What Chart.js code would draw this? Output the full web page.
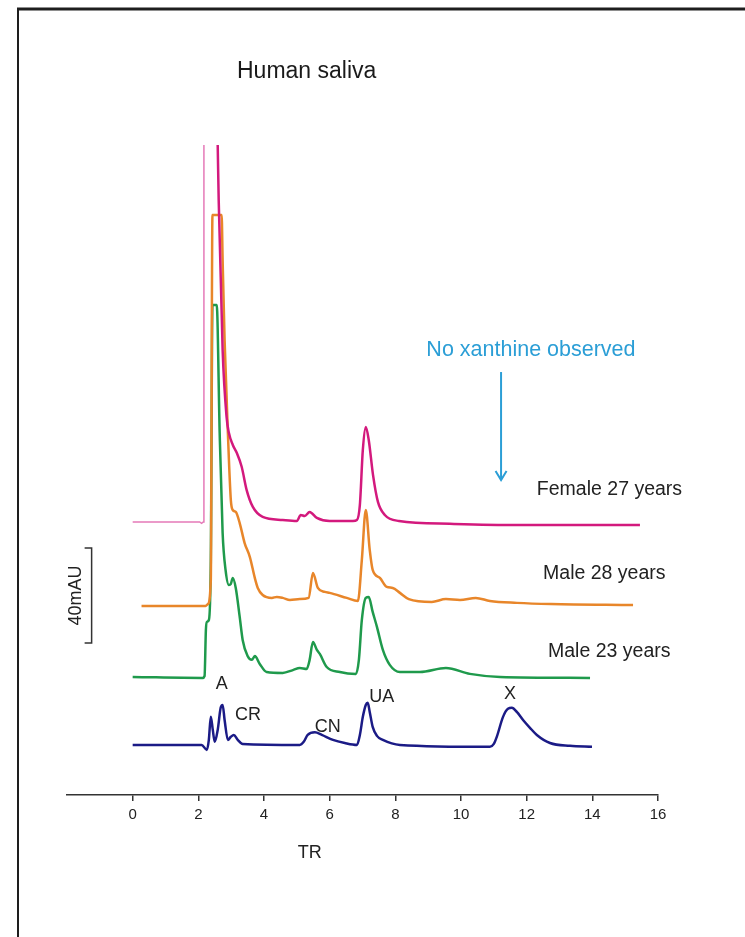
<!DOCTYPE html>
<html><head><meta charset="utf-8">
<script src="https://cdn.jsdelivr.net/npm/chart.js@4.4.1/dist/chart.umd.min.js"></script>
<style>html,body{margin:0;padding:0;background:#fff}canvas{display:block}</style>
</head><body>
<canvas id="c" width="745" height="937"></canvas>
<script>
// ---- data (retention time in min, absorbance in mAU above each trace's baseline) ----
const xTicks = [0, 2, 4, 6, 8, 10, 12, 14, 16];
const traceNames = ['Female 27 years', 'Male 28 years', 'Male 23 years', 'Standard'];
const traceOffsets = [115, 79.6, 49.7, 21.1];   // vertical stacking of the traces (mAU)

const femalePreT = [0, 2.04, 2.10, 2.15, 2.17];
const femalePreA = [0, 0, -0.6, 0, 158.7];

const femaleT = [2.59, 2.62, 2.74, 2.86, 2.93, 3.05, 3.17, 3.32, 3.47, 3.66, 3.96, 4.57, 5.00, 5.12, 5.24, 5.39, 5.61, 6.00, 6.71, 6.83, 6.92, 7.01, 7.10, 7.19, 7.32, 7.47, 7.68, 8.11, 9.66, 11.70, 15.45];
const femaleA = [158.7, 135.6, 72.4, 44.2, 37.5, 32.4, 29.1, 23.2, 13.5, 6.3, 2.1, 0.8, 0.4, 2.9, 2.5, 4.2, 1.7, 0.4, 0.4, 0.8, 7.2, 30.3, 40.0, 34.5, 19.8, 8.4, 2.9, 0.4, -0.8, -1.3, -1.3];

const male28T = [0.27, 2.22, 2.29, 2.38, 2.43, 2.71, 2.74, 2.80, 2.90, 2.99, 3.05, 3.14, 3.26, 3.41, 3.57, 3.72, 3.81, 3.96, 4.24, 4.39, 4.57, 4.79, 5.09, 5.36, 5.49, 5.64, 5.85, 6.00, 6.52, 6.86, 6.98, 7.10, 7.22, 7.31, 7.53, 7.74, 7.92, 8.14, 8.41, 9.11, 9.54, 9.97, 10.45, 10.88, 11.70, 12.74, 15.24];
const male28A = [0, 0, 0.8, 11, 164.6, 164.6, 145.7, 112, 72.8, 44.6, 40.4, 39.6, 34.9, 26.5, 20.6, 11.8, 7.6, 4.6, 3.4, 3.8, 3.4, 2.5, 2.9, 3.4, 13.9, 7.6, 5.9, 5.5, 3.4, 2.1, 19.4, 40.4, 23.6, 15.2, 11.8, 8.0, 7.6, 5.5, 2.9, 1.7, 2.9, 2.5, 3.4, 2.1, 1.3, 0.8, 0.4];

const male23T = [0, 2.13, 2.19, 2.23, 2.26, 2.32, 2.38, 2.43, 2.56, 2.65, 2.74, 2.83, 2.93, 2.99, 3.05, 3.14, 3.26, 3.35, 3.50, 3.63, 3.72, 3.87, 4.08, 4.57, 4.88, 5.09, 5.30, 5.39, 5.49, 5.61, 5.70, 5.91, 6.31, 6.80, 6.89, 6.98, 7.10, 7.19, 7.31, 7.44, 7.62, 7.83, 8.14, 8.75, 9.54, 10.27, 11.19, 13.93];
const male23A = [0, -0.4, 0.4, 19.8, 23.2, 24.0, 49.0, 156.6, 156.6, 102.7, 60.6, 45.0, 38.7, 39.2, 41.7, 37.5, 25.3, 15.6, 8.8, 7.2, 8.8, 5.5, 2.1, 1.7, 2.9, 3.8, 3.4, 7.2, 14.7, 11.4, 9.7, 4.2, 2.1, 1.3, 7.2, 24.0, 33.3, 33.7, 27.4, 21.1, 11.4, 5.1, 2.1, 2.1, 3.8, 1.3, 0, -0.4];

const standardT = [0, 2.10, 2.26, 2.32, 2.38, 2.44, 2.50, 2.59, 2.68, 2.74, 2.80, 2.90, 2.99, 3.08, 3.20, 3.35, 5.09, 5.21, 5.33, 5.55, 5.76, 6.10, 6.46, 6.83, 6.92, 7.01, 7.10, 7.16, 7.22, 7.31, 7.44, 7.62, 8.14, 10.88, 11.00, 11.09, 11.28, 11.43, 11.55, 11.70, 11.89, 12.10, 12.31, 12.71, 13.32, 13.99];
const standardA = [0, 0, -2.1, 2.1, 11.8, 6.3, 1.3, 6.3, 15.6, 16.8, 10.5, 2.1, 3.4, 4.2, 2.1, 0.4, 0, 1.3, 4.2, 5.3, 4.2, 2.1, 0.8, 0, 4.2, 11.8, 16.8, 17.7, 13.9, 7.6, 3.8, 2.1, 0, -0.8, 0.4, 3.4, 11.8, 15.2, 15.6, 13.9, 10.5, 7.2, 4.2, 0.8, -0.4, -0.8];

const peakLabels = ['A', 'CR', 'CN', 'UA', 'X'];
const scaleBarMAU = 40;

// ---- build points ----
function pts(ts, as, off) { return ts.map((t, i) => ({ x: t, y: as[i] + off })); }

const ds = (data, color, w, smooth) => ({
  data, borderColor: color, borderWidth: w, pointRadius: 0, showLine: true,
  fill: false, cubicInterpolationMode: smooth ? 'monotone' : 'default', tension: 0
});

const FONT = '"Liberation Sans", Arial, sans-serif';

const annot = {
  id: 'annot',
  beforeDraw(chart) {
    const c = chart.ctx;
    c.save();
    c.fillStyle = '#fff';
    c.fillRect(0, 0, chart.width, chart.height);
    c.strokeStyle = '#1e1e1e';
    c.lineWidth = 3;
    c.beginPath(); c.moveTo(17, 9); c.lineTo(chart.width, 9); c.stroke();
    c.lineWidth = 2;
    c.beginPath(); c.moveTo(18, 8); c.lineTo(18, chart.height); c.stroke();
    c.restore();
  },
  afterDraw(chart) {
    const c = chart.ctx, xs = chart.scales.x, ys = chart.scales.y;
    const X = v => xs.getPixelForValue(v), Y = v => ys.getPixelForValue(v);
    function t(s, x, y, size, color, align) {
      c.font = size + 'px ' + FONT;
      c.fillStyle = color;
      c.textAlign = align || 'center';
      c.textBaseline = 'middle';
      c.fillText(s, X(x), Y(y));
    }
    c.save();
    t('Human saliva', 5.30, 304.4, 23, '#1a1a1a');
    t('No xanthine observed', 12.13, 187.4, 21.5, '#2b9ed6');
    t(traceNames[0], 12.31, 128.4, 19.5, '#222', 'left');
    t(traceNames[1], 12.50, 93.1, 19.5, '#222', 'left');
    t(traceNames[2], 12.65, 60.2, 19.5, '#222', 'left');
    t(peakLabels[0], 2.71, 46.7, 18, '#222');
    t(peakLabels[1], 3.51, 33.7, 18, '#222');
    t(peakLabels[2], 5.94, 28.6, 18, '#222');
    t(peakLabels[3], 7.59, 41.3, 18, '#222');
    t(peakLabels[4], 11.49, 42.5, 18, '#222');
    t('TR', 5.39, -24.4, 18, '#222');

    // arrow
    const ax = X(11.22), ay0 = Y(178.1), ay1 = Y(132.6);
    c.strokeStyle = '#2b9ed6'; c.lineWidth = 2;
    c.beginPath(); c.moveTo(ax, ay0); c.lineTo(ax, ay1); c.stroke();
    c.beginPath(); c.moveTo(ax - 5.5, ay1 - 9); c.lineTo(ax, ay1); c.lineTo(ax + 5.5, ay1 - 9); c.stroke();

    // scale bar
    const bx = X(-1.25), by0 = Y(64), by1 = Y(64 + scaleBarMAU);
    c.strokeStyle = '#333'; c.lineWidth = 1.5;
    c.beginPath(); c.moveTo(bx - 7, by1); c.lineTo(bx, by1); c.lineTo(bx, by0); c.lineTo(bx - 7, by0); c.stroke();
    c.translate(X(-1.72), (by0 + by1) / 2);
    c.rotate(-Math.PI / 2);
    c.font = '18px ' + FONT; c.fillStyle = '#222'; c.textAlign = 'center'; c.textBaseline = 'middle';
    c.fillText(scaleBarMAU + 'mAU', 0, 0);
    c.restore();
  }
};

new Chart(document.getElementById('c'), {
  type: 'scatter',
  data: {
    datasets: [
      ds(pts(femalePreT, femalePreA, traceOffsets[0]), '#e57ab8', 1.5, false),
      ds(pts(femaleT, femaleA, traceOffsets[0]), '#d3197d', 2.5, true),
      ds(pts(male28T, male28A, traceOffsets[1]), '#e8862a', 2.5, true),
      ds(pts(male23T, male23A, traceOffsets[2]), '#1f9a4c', 2.5, true),
      ds(pts(standardT, standardA, traceOffsets[3]), '#1b1b86', 2.5, true)
    ]
  },
  options: {
    responsive: false,
    devicePixelRatio: 1,
    animation: false,
    layout: { padding: { left: 67, right: 87, top: 145, bottom: 102 } },
    plugins: { legend: { display: false }, tooltip: { enabled: false }, title: { display: false } },
    scales: {
      x: {
        type: 'linear', min: -2, max: 16,
        afterBuildTicks: s => { s.ticks = xTicks.map(v => ({ value: v })); },
        afterFit: s => { s.height = 40; },
        ticks: { color: '#222', font: { family: FONT, size: 15 }, padding: 5, maxRotation: 0, autoSkip: false },
        grid: { drawOnChartArea: false, drawTicks: true, tickLength: 6, color: '#333', lineWidth: 1.5 },
        border: { display: true, color: '#333', width: 1.5 }
      },
      y: { display: false, min: 0, max: 273.7 }
    }
  },
  plugins: [annot]
});
</script>
</body></html>
